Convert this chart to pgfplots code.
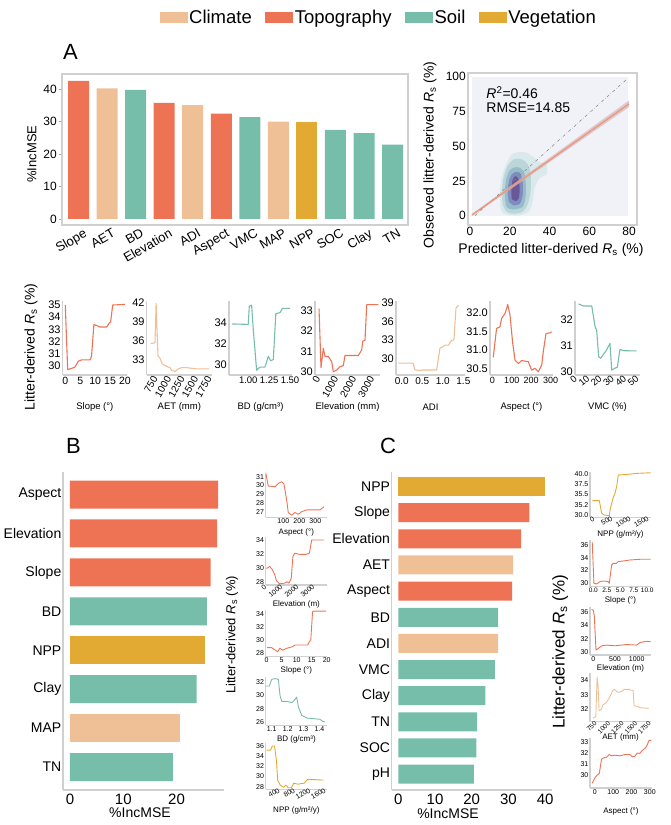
\documentclass[border=0pt]{standalone}
\usepackage{fontspec}
\setmainfont{Liberation Sans}
\usepackage{pgfplots}
\pgfplotsset{compat=1.18}
\definecolor{topo}{RGB}{238,115,85}
\definecolor{clim}{RGB}{239,192,150}
\definecolor{soil}{RGB}{118,189,170}
\definecolor{veg}{RGB}{226,170,50}
\definecolor{spine}{RGB}{208,208,208}
\definecolor{kbg}{RGB}{241,242,248}
\definecolor{k1}{RGB}{218,233,235}
\definecolor{k2}{RGB}{186,214,217}
\definecolor{k3}{RGB}{150,187,202}
\definecolor{k4}{RGB}{128,140,192}
\definecolor{k5}{RGB}{104,88,152}
\definecolor{fitc}{RGB}{240,150,120}
\definecolor{bandc}{RGB}{210,185,190}
\newcommand{\fs}[1]{\fontsize{#1}{#1}\selectfont}
\newcommand{\Rs}{\textit{R}\textsubscript{s}}
\pgfplotsset{
  scaled ticks=false,
  clip mode=individual,
  /pgf/number format/1000 sep={},
  /pgf/number format/assume math mode=true,
  leg/.style={legend image code/.code={\fill[##1] (0pt,-5.5pt) rectangle (28pt,5.5pt);}},
  pd/.style={scale only axis, anchor=north west, axis lines*=left,
    axis line style={spine, line width=1.2pt}, major tick length=0pt, tick style={draw=none},
    every axis plot/.append style={line width=1.1pt, line join=round},
    xlabel style={anchor=center}},
  pd2/.style={pd, tick label style={font=\fs{11}}, xticklabel style={inner sep=2pt}, yticklabel style={inner sep=2pt},
    height=74pt, xlabel style={font=\fs{9.5}, at={(axis description cs:0.5,-0.432)}}},
  pd3/.style={pd, tick label style={font=\fs{7}}, xticklabel style={inner sep=1.2pt}, yticklabel style={inner sep=1.5pt},
    xlabel style={font=\fs{8}}, every axis plot/.append style={line width=0.9pt}},
  hb/.style={scale only axis, anchor=north west, xbar, bar shift=0pt, axis lines*=left,
    axis line style={spine, line width=1.5pt}, major tick length=0pt, tick style={draw=none},
    yticklabel style={font=\fs{14}, inner sep=1.5pt}, xticklabel style={font=\fs{15}},
    xlabel style={font=\fs{14}, anchor=center}},
}
\begin{document}
\begin{tikzpicture}
\useasboundingbox (0,0) rectangle (671pt,825pt);
% ---------------- Panel A bars
\begin{axis}[at={(62pt,751pt)}, anchor=north west, scale only axis, width=346pt, height=151pt,
  xmin=-0.578, xmax=11.54, ymin=-1.85, ymax=44.7,
  axis line style={spine, line width=1.2pt},
  ybar, bar width=21pt, bar shift=0pt,
  xtick={0,...,11}, xticklabels={Slope,AET,BD,Elevation,ADI,Aspect,VMC,MAP,NPP,SOC,Clay,TN},
  xticklabel style={rotate=30, anchor=north east, font=\fs{13}, xshift=6pt, inner sep=2pt},
  ytick={0,10,20,30,40}, yticklabel style={font=\fs{12}, inner sep=2pt},
  xtick style={draw=none}, ytick style={draw=gray!70, line width=0.8pt},
  major tick length=3pt, tick align=outside, xtick pos=bottom, ytick pos=left,
  ylabel={\%IncMSE}, ylabel style={font=\fs{13}, at={(axis description cs:-0.087,0.47)}, anchor=center},
  legend columns=4,
  legend style={at={(axis description cs:0.9147,1.377)}, anchor=center, draw=none, fill=none, font=\fs{18.5}, inner sep=0pt,
     nodes={inner sep=1.5pt}, /tikz/every even column/.append style={column sep=12pt}},
]
\addplot[fill=clim, draw=none, leg] coordinates {(1,40.3) (4,35.1) (7,30.0)};
\addplot[fill=topo, draw=none, leg] coordinates {(0,42.6) (3,35.8) (5,32.5)};
\addplot[fill=soil, draw=none, leg] coordinates {(2,39.8) (6,31.4) (9,27.5) (10,26.5) (11,22.9)};
\addplot[fill=veg, draw=none, leg] coordinates {(8,29.9)};
\legend{Climate,Topography,Soil,Vegetation}
\node[font=\fs{22}] at (axis description cs:0.0246,1.146) {A};
\end{axis}
% ---------------- Panel A scatter
\begin{axis}[at={(468pt,752pt)}, anchor=north west, scale only axis, width=169pt, height=152pt,
  xmin=-1, xmax=84, ymin=-6.7, ymax=102.7, axis line style={spine, line width=1.2pt},
  xtick={0,20,40,60,80}, ytick={0,25,50,75,100}, major tick length=0pt, tick style={draw=none},
  tick label style={font=\fs{12}}, xticklabel style={inner sep=2pt}, yticklabel style={inner sep=2pt},
  xlabel={Predicted litter-derived \Rs\ (\%)}, ylabel={Observed litter-derived \Rs\ (\%)},
  xlabel style={font=\fs{14}, at={(axis description cs:0.491,-0.164)}, anchor=center},
  ylabel style={font=\fs{14}, at={(axis description cs:-0.225,0.46)}, anchor=center}]
\addplot[fill=kbg, draw=none] coordinates {(1,0) (79.5,0) (79.5,100) (1,100)} -- cycle;
\addplot[fill=k1, draw=none, smooth] coordinates {(15.5,4) (15,15) (16,28) (18.5,38) (21,44) (25,46) (29,45) (32,42) (35,38.5) (38.5,37) (38.5,30) (35,27) (32.5,20) (31.5,10) (29.5,3) (25,0.3) (20,0.3) (17,1.5) (15.5,4)} -- cycle;
\addplot[fill=k2, draw=none, smooth] coordinates {(16.5,8) (16,17) (17,28) (19,36) (22,40.5) (26,40.5) (29,37) (30.5,30) (30.5,18) (29,8) (26,2.5) (21,1.5) (18,3.5) (16.5,8)} -- cycle;
\addplot[fill=k3, draw=none, smooth] coordinates {(18,8) (17.5,18) (18.5,28) (20.5,33.5) (24,35) (27,32) (28,24) (28,14) (26.5,6.5) (22,4.5) (19,5.5) (18,8)} -- cycle;
\addplot[fill=k4, draw=none, smooth] coordinates {(19.5,10) (19,18) (20,27) (22,31) (25,31) (26.5,24) (26.5,15) (25,8.5) (22,7.5) (19.5,10)} -- cycle;
\addplot[fill=k5, draw=none, smooth] coordinates {(21,12) (20.8,19) (21.5,26) (23,28.5) (24.5,26) (25,19) (24.5,12.5) (23,10.5) (21,12)} -- cycle;
\addplot[fill=bandc, fill opacity=0.7, draw=none] coordinates {(1,-0.3) (80,78.2) (80,83) (1,1.3)} -- cycle;
\addplot[draw=gray, dash dot, line width=0.5pt] coordinates {(2.5,0) (78.5,97.8)};
\addplot[draw=fitc, line width=1.3pt] coordinates {(1,0.5) (80,80.5)};
\node[anchor=west, font=\fs{14}] at (axis cs:6.5,88.3) {\textit{R}\textsuperscript{2}=0.46};
\node[anchor=west, font=\fs{14}] at (axis cs:6.5,77.5) {RMSE=14.85};
\end{axis}
% ---------------- Row 2 partial dependence
\begin{axis}[pd2, at={(62.7pt,524pt)}, width=64.3pt, xmin=-0.87, xmax=20.7, ymin=29.26, ymax=35.33,
  xtick={0,5,10,15,20}, ytick={30,31,32,33,34,35}, xticklabel style={font=\fs{10.5}}, xlabel={Slope (°)},
  ylabel={Litter-derived \Rs\ (\%)}, ylabel style={font=\fs{14}, at={(axis description cs:-0.493,0.378)}, anchor=center}]
\addplot[topo] coordinates {(0,35.0) (0.8,29.7) (2.1,29.8) (3.2,29.9) (4.4,30.4) (5.5,30.5) (8.3,30.5) (8.8,30.8) (9.6,33.4) (10.7,33.3) (11.6,33.2) (13.9,33.2) (14.7,33.5) (15.2,33.6) (15.9,35.0) (20,35.05)};
\end{axis}
\begin{axis}[pd2, at={(146.7pt,524pt)}, width=65.3pt, xmin=591, xmax=1800, ymin=30.65, ymax=42.27,
  xtick={750,1000,1250,1500,1750}, ytick={33,36,39,42},
  xticklabel style={rotate=60, anchor=east, font=\fs{10}, yshift=-1pt}, xlabel={AET (mm)}]
\addplot[clim] coordinates {(664,35.6) (745,35.7) (765,41.9) (800,33.6) (836,33.3) (880,32.4) (960,32.0) (1022,31.8) (1052,31.4) (1114,31.2) (1176,31.6) (1238,31.8) (1330,31.8) (1423,31.7) (1515,31.6) (1750,31.6)};
\end{axis}
\begin{axis}[pd2, at={(229pt,524pt)}, width=63pt, xmin=0.769, xmax=1.524, ymin=29.06, ymax=35.99,
  xtick={1,1.25,1.5}, xticklabels={1.00,1.25,1.50}, xticklabel style={font=\fs{9.5}}, ytick={30,32,34}, xlabel={BD (g/cm³)}]
\addplot[soil] coordinates {(0.808,33.84) (1.0,33.8) (1.012,35.5) (1.04,35.6) (1.06,33.3) (1.10,29.5) (1.14,29.8) (1.20,29.8) (1.24,30.8) (1.268,30.4) (1.30,30.5) (1.33,34.8) (1.38,34.9) (1.41,35.3) (1.5,35.3)};
\end{axis}
\begin{axis}[pd2, at={(315pt,524pt)}, width=65pt, xmin=-167, xmax=3444, ymin=29.84, ymax=33.48,
  xtick={0,1000,2000,3000}, ytick={30,31,32,33},
  xticklabel style={rotate=60, anchor=east, font=\fs{10}, yshift=-1pt}, xlabel={Elevation (mm)}]
\addplot[topo] coordinates {(56,33.1) (167,30.2) (294,31.15) (389,30.75) (572,30.75) (761,30.5) (850,30.0) (1039,30.08) (1222,30.25) (1406,30.3) (1500,30.8) (1778,30.8) (2239,30.8) (2428,31.07) (2483,31.5) (2611,31.55) (2706,33.3) (3350,33.3)};
\end{axis}
\begin{axis}[pd2, at={(396pt,524pt)}, width=69pt, xmin=-0.139, xmax=1.54, ymin=27.4, ymax=39.27,
  xtick={0,0.5,1,1.5}, xticklabels={0.0,0.5,1.0,1.5}, xticklabel style={font=\fs{10}}, ytick={30,33,36,39}, xlabel={ADI}]
\addplot[clim] coordinates {(-0.08,29.3) (0.28,29.3) (0.32,28.25) (0.45,28.1) (0.49,28.2) (0.85,28.2) (0.93,31.7) (1.01,31.97) (1.05,32.2) (1.135,32.2) (1.22,33.0) (1.27,33.0) (1.32,38.1) (1.38,38.6)};
\end{axis}
\begin{axis}[pd2, at={(490pt,524pt)}, width=63pt, xmin=-11.8, xmax=312, ymin=30.32, ymax=32.32,
  xtick={0,100,200,300}, xticklabel style={font=\fs{9}}, ytick={30.5,31,31.5,32}, yticklabels={30.5,31.0,31.5,32.0}, xlabel={Aspect (°)}]
\addplot[topo] coordinates {(5,30.8) (22,31.58) (39,31.62) (48,31.85) (65,31.98) (74,32.12) (79,32.23) (91,31.94) (105,31.17) (117,30.72) (134,30.63) (151,30.71) (185,30.68) (202,30.45) (219,30.5) (237,30.41) (254,30.59) (262,30.95) (276,31.44) (297,31.46) (305,31.49)};
\end{axis}
\begin{axis}[pd2, at={(575pt,524pt)}, width=65pt, xmin=-1.4, xmax=51.4, ymin=29.87, ymax=32.7,
  xtick={0,10,20,30,40,50}, ytick={30,31,32},
  xticklabel style={rotate=40, anchor=east, font=\fs{9.5}, yshift=-1pt}, xlabel={VMC (\%)}]
\addplot[soil] coordinates {(1.4,32.59) (5.4,32.51) (12.2,32.51) (14.9,31.72) (16.2,31.59) (17.8,30.57) (19.5,30.51) (24.3,30.83) (27,31.08) (28.4,30.06) (31.1,30.13) (33,30.17) (35.1,30.85) (37.8,30.8) (48.6,30.79)};
\end{axis}
% ---------------- Panel B bars
\begin{axis}[hb, at={(63pt,353pt)}, width=161pt, height=318pt, bar width=28pt,
  xmin=-1.31, xmax=28.9, ymin=-0.59, ymax=7.58,
  ytick={0,...,7}, yticklabels={TN,MAP,Clay,NPP,BD,Slope,Elevation,Aspect}, xtick={0,10,20},
  xlabel={\%IncMSE}, xlabel style={at={(axis description cs:0.478,-0.072)}}]
\addplot[fill=topo, draw=none] coordinates {(27.8,7) (27.6,6) (26.4,5)};
\addplot[fill=soil, draw=none] coordinates {(25.7,4) (23.75,2) (19.3,0)};
\addplot[fill=veg, draw=none] coordinates {(25.4,3)};
\addplot[fill=clim, draw=none] coordinates {(20.6,1)};
\node[font=\fs{22}] at (axis description cs:0.065,1.082) {B};
\end{axis}
% B small plots
\begin{axis}[pd3, at={(265.7pt,352pt)}, width=61.3pt, height=44.3pt, xmin=-10, xmax=373, ymin=26.36, ymax=31.42,
  xtick={100,200,300}, ytick={27,28,29,30,31}, xlabel={Aspect (°)}, xlabel style={at={(axis description cs:0.5,-0.34)}}]
\addplot[topo] coordinates {(-8,31.3) (6,29.93) (48,29.86) (69,30.24) (90,30.43) (104,30.16) (121,28.33) (131,26.9) (152,26.6) (173,26.9) (194,26.7) (215,27.0) (246,27.2) (287,27.2) (308,27.2) (329,27.2) (354,27.57)};
\end{axis}
\begin{axis}[pd3, at={(265.7pt,288pt)}, width=61.3pt, height=48pt, xmin=-50, xmax=3781, ymin=27.53, ymax=34.43,
  xtick={0,1000,2000,3000}, ytick={28,30,32,34}, xticklabel style={rotate=40, anchor=east},
  xlabel={Elevation (m)}, xlabel style={at={(axis description cs:0.5,-0.40)}}]
\addplot[topo] coordinates {(0,29.9) (206,30.2) (371,29.7) (515,29.0) (619,28.15) (825,27.7) (1134,27.8) (1278,28.0) (1402,27.8) (1546,28.5) (1649,31.6) (1753,32.1) (2062,31.94) (2474,31.94) (2680,32.1) (2825,34.0) (3608,34.0)};
\end{axis}
\begin{axis}[pd3, at={(265.7pt,215pt)}, width=61.3pt, height=46.7pt, xmin=-0.3, xmax=20.1, ymin=27.375, ymax=34.67,
  xtick={0,5,10,15,20}, ytick={28,30,32,34}, xlabel={Slope (°)}, xlabel style={at={(axis description cs:0.5,-0.30)}}]
\addplot[topo] coordinates {(0.2,28.8) (1.6,28.8) (2.6,28.5) (3.7,28.15) (4.4,28.7) (5.3,28.4) (6.8,28.7) (8.4,28.9) (9.5,29.2) (13.7,29.2) (14.2,29.7) (14.7,30.0) (15.3,34.4) (15.8,34.5) (19.8,34.5)};
\node[rotate=90, font=\fs{13}] at (axis description cs:-0.55,0.465) {Litter-derived \Rs\ (\%)};
\end{axis}
\begin{axis}[pd3, at={(265.7pt,148pt)}, width=61.3pt, height=48.3pt, xmin=1.062, xmax=1.448, ymin=25.5, ymax=32.75,
  xtick={1.1,1.2,1.3,1.4}, xticklabels={1.1,1.2,1.3,1.4}, ytick={26,28,30,32},
  xlabel={BD (g/cm³)}, xlabel style={at={(axis description cs:0.5,-0.29)}}]
\addplot[soil] coordinates {(1.062,31.4) (1.085,31.4) (1.1,32.4) (1.121,32.5) (1.142,32.4) (1.152,30.0) (1.163,29.1) (1.194,29.1) (1.226,28.9) (1.247,29.4) (1.257,29.75) (1.268,28.25) (1.289,27.0) (1.32,26.6) (1.362,26.5) (1.404,26.4) (1.42,26.1) (1.435,26.0)};
\end{axis}
\begin{axis}[pd3, at={(265.7pt,82.3pt)}, width=61.3pt, height=46.6pt, xmin=20, xmax=1620, ymin=27.49, ymax=36.65,
  xtick={400,800,1200,1600}, ytick={28,30,32,34,36}, xticklabel style={rotate=30, anchor=east},
  xlabel={NPP (g/m²/y)}, xlabel style={at={(axis description cs:0.5,-0.46)}}]
\addplot[veg] coordinates {(42,35.2) (150,35.2) (192,36.0) (250,36.0) (300,33.2) (332,29.3) (400,28.3) (482,27.9) (550,28.3) (607,27.8) (692,27.8) (750,28.7) (857,28.5) (1025,28.7) (1107,29.4) (1275,29.4) (1525,29.3)};
\end{axis}
% ---------------- Panel C bars
\begin{axis}[hb, at={(391.7pt,353.3pt)}, width=160pt, height=318.3pt, bar width=19pt,
  xmin=-1.8, xmax=41.8, ymin=-0.61, ymax=11.57,
  ytick={0,...,11}, yticklabels={pH,SOC,TN,Clay,VMC,ADI,BD,Aspect,AET,Elevation,Slope,NPP},
  xtick={0,10,20,30,40},
  xlabel={\%IncMSE}, xlabel style={at={(axis description cs:0.352,-0.075)}}]
\addplot[fill=veg, draw=none] coordinates {(40.0,11)};
\addplot[fill=topo, draw=none] coordinates {(35.7,10) (33.5,9) (31.0,7)};
\addplot[fill=clim, draw=none] coordinates {(31.3,8) (27.2,5)};
\addplot[fill=soil, draw=none] coordinates {(27.2,6) (26.3,4) (23.7,3) (21.5,2) (21.3,1) (20.6,0)};
\node[font=\fs{22}] at (axis description cs:-0.023,1.081) {C};
\end{axis}
% C small plots
\begin{axis}[pd3, at={(590pt,353.3pt)}, width=61pt, height=45.6pt, xmin=-138, xmax=1547, ymin=29.44, ymax=40.56,
  xtick={0,500,1000,1500}, ytick={30,32.5,35,37.5,40}, yticklabels={30.0,35.2,35.5,37.5,40.0},
  xticklabel style={rotate=30, anchor=east},
  xlabel={NPP (g/m²/y)}, xlabel style={at={(axis description cs:0.5,-0.38)}}]
\addplot[veg] coordinates {(-74,33.5) (46,33.5) (120,33.5) (184,30.4) (248,30.0) (396,29.85) (414,31.2) (460,32.85) (506,34.3) (552,35.3) (598,36.9) (644,39.76) (874,39.9) (1150,40.15) (1536,40.3)};
\end{axis}
\begin{axis}[pd3, at={(590pt,285pt)}, width=61pt, height=46.7pt, xmin=-0.61, xmax=10.69, ymin=29.47, ymax=36.78,
  xtick={0,2.5,5,7.5,10}, xticklabels={0.0,2.5,5.0,7.5,10.0}, xticklabel style={font=\fs{6.5}}, ytick={30,32,34,36},
  xlabel={Slope (°)}, xlabel style={at={(axis description cs:0.5,-0.29)}}]
\addplot[topo] coordinates {(-0.2,36.5) (0.12,30.0) (0.6,29.9) (1.23,30.26) (1.85,30.37) (2.78,30.26) (2.96,30.0) (3.4,32.87) (3.7,33.13) (4.3,33.13) (4.6,33.4) (5.56,33.5) (6.8,33.65) (8.64,33.76) (10.6,33.76)};
\end{axis}
\begin{axis}[pd3, at={(590pt,218pt)}, width=61pt, height=48pt, xmin=-76, xmax=1329, ymin=29.49, ymax=36.84,
  xtick={0,500,1000}, ytick={30,32,34,36},
  xlabel={Elevation (m)}, xlabel style={at={(axis description cs:0.5,-0.28)}}]
\addplot[topo] coordinates {(-38,36.5) (0,36.3) (23,35.5) (62,30.25) (115,30.5) (192,30.9) (308,31.0) (500,30.9) (769,31.1) (1000,31.0) (1077,31.4) (1231,31.6) (1323,31.5)};
\node[rotate=90, font=\fs{17}] at (axis description cs:-0.49,0.0625) {Litter-derived \Rs\ (\%)};
\end{axis}
\begin{axis}[pd3, at={(590pt,151.7pt)}, width=61pt, height=48.4pt, xmin=630, xmax=1760, ymin=31.15, ymax=34.46,
  xtick={750,1000,1250,1500,1750}, ytick={32,33,34}, xticklabel style={rotate=45, anchor=east, font=\fs{6.5}},
  xlabel={AET (mm)}, xlabel style={at={(axis description cs:0.5,-0.33)}}]
\addplot[clim] coordinates {(689,31.4) (738,31.5) (762,34.2) (780,33.55) (798,31.9) (841,32.0) (871,32.3) (932,32.45) (992,32.8) (1053,33.3) (1083,33.36) (1144,33.16) (1205,33.2) (1265,33.36) (1356,33.36) (1386,33.3) (1429,33.3) (1447,32.23) (1508,32.2) (1568,32.1) (1720,32.07)};
\end{axis}
\begin{axis}[pd3, at={(590pt,87pt)}, width=62pt, height=50pt, xmin=-27, xmax=312, ymin=28.82, ymax=33.36,
  xtick={0,100,200,300}, ytick={30,31,32,33},
  xlabel={Aspect (°)}, xlabel style={at={(axis description cs:0.5,-0.474)}}]
\addplot[topo] coordinates {(-15,29.25) (0,29.76) (13,30.0) (24,30.15) (31,30.9) (36,31.44) (49,31.56) (64,31.62) (78,31.86) (91,31.74) (109,31.8) (136,31.74) (164,31.86) (191,31.86) (205,31.65) (218,31.7) (231,32.0) (245,31.95) (260,32.25) (273,32.4) (285,32.7) (296,33.15) (309,33.15)};
\end{axis}
\end{tikzpicture}
\end{document}
